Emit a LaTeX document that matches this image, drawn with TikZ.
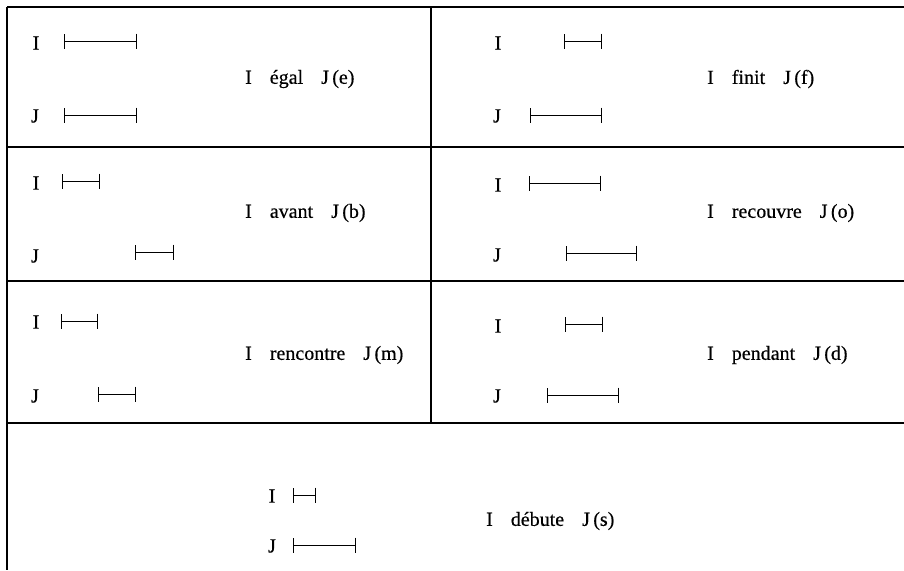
\documentclass[tikz,border=0pt]{standalone}
\usepackage{fontspec}
\setmainfont{Liberation Serif}
\newfontfamily\scanfont[FakeBold=0.5]{Liberation Serif}
\usetikzlibrary{arrows.meta}
\newcommand{\relgap}{\hspace{0.9em}}
\begin{document}
\begin{tikzpicture}[x=1pt,y=-1pt,
  frame/.style={line width=1.8pt,black},
  letter/.style={font=\scanfont\fontsize{20}{20}\selectfont,inner sep=0pt,anchor=center},
  rel/.style={font=\scanfont\fontsize{20}{20}\selectfont,inner sep=0pt,anchor=west},
  ival/.style={line width=1pt,{Bar[width=15pt,line width=1.4pt]}-{Bar[width=15pt,line width=1.4pt]}}]
\useasboundingbox (0,0) rectangle (904,570);
% frame
\coordinate (tl) at (7,7);
\coordinate (tr) at (904,7);
\coordinate (bl) at (7,570);
\coordinate (tm) at (431,7);
\coordinate (bm) at (431,423);
\coordinate (r1l) at (7,147); \coordinate (r1r) at (904,147);
\coordinate (r2l) at (7,281); \coordinate (r2r) at (904,281);
\coordinate (r3l) at (7,423); \coordinate (r3r) at (904,423);
\draw[frame] (tl) -- (tr);
\draw[frame] (r1l) -- (r1r);
\draw[frame] (r2l) -- (r2r);
\draw[frame] (r3l) -- (r3r);
\draw[frame] (tl) -- (bl);
\draw[frame] (tm) -- (bm);
% ---- cell e
\node[letter] (eI) at (36,43) {I};
\node[letter] (eJ) at (35,116) {J};
\coordinate (eIa) at (64,41); \coordinate (eIb) at (137,41);
\coordinate (eJa) at (64,115); \coordinate (eJb) at (137,115);
\draw[ival] (eIa) -- (eIb);
\draw[ival] (eJa) -- (eJb);
\node[rel] (eL) at (245,79) {I\relgap égal\relgap J\,(e)};
% ---- cell f
\node[letter] (fI) at (498,43) {I};
\node[letter] (fJ) at (497,116) {J};
\coordinate (fIa) at (564,41); \coordinate (fIb) at (602,41);
\coordinate (fJa) at (530,115); \coordinate (fJb) at (602,115);
\draw[ival] (fIa) -- (fIb);
\draw[ival] (fJa) -- (fJb);
\node[rel] (fL) at (707,79) {I\relgap finit\relgap J\,(f)};
% ---- cell b
\node[letter] (bI) at (36,183) {I};
\node[letter] (bJ) at (35,256) {J};
\coordinate (bIa) at (62,181); \coordinate (bIb) at (100,181);
\coordinate (bJa) at (135,252); \coordinate (bJb) at (174,252);
\draw[ival] (bIa) -- (bIb);
\draw[ival] (bJa) -- (bJb);
\node[rel] (bL) at (245,213) {I\relgap avant\relgap J\,(b)};
% ---- cell o
\node[letter] (oI) at (498,185) {I};
\node[letter] (oJ) at (497,255) {J};
\coordinate (oIa) at (529,183); \coordinate (oIb) at (601,183);
\coordinate (oJa) at (566,253); \coordinate (oJb) at (637,253);
\draw[ival] (oIa) -- (oIb);
\draw[ival] (oJa) -- (oJb);
\node[rel] (oL) at (707,213) {I\relgap recouvre\relgap J\,(o)};
% ---- cell m
\node[letter] (mI) at (36,322) {I};
\node[letter] (mJ) at (35,396) {J};
\coordinate (mIa) at (61,321); \coordinate (mIb) at (98,321);
\coordinate (mJa) at (98,394); \coordinate (mJb) at (136,394);
\draw[ival] (mIa) -- (mIb);
\draw[ival] (mJa) -- (mJb);
\node[rel] (mL) at (245,355) {I\relgap rencontre\relgap J\,(m)};
% ---- cell d
\node[letter] (dI) at (498,326) {I};
\node[letter] (dJ) at (497,396) {J};
\coordinate (dIa) at (565,324); \coordinate (dIb) at (603,324);
\coordinate (dJa) at (547,395); \coordinate (dJb) at (619,395);
\draw[ival] (dIa) -- (dIb);
\draw[ival] (dJa) -- (dJb);
\node[rel] (dL) at (707,355) {I\relgap pendant\relgap J\,(d)};
% ---- cell s
\node[letter] (sI) at (272,496) {I};
\node[letter] (sJ) at (272,546) {J};
\coordinate (sIa) at (293,495); \coordinate (sIb) at (316,495);
\coordinate (sJa) at (293,545); \coordinate (sJb) at (356,545);
\draw[ival] (sIa) -- (sIb);
\draw[ival] (sJa) -- (sJb);
\node[rel] (sL) at (486,521) {I\relgap débute\relgap J\,(s)};
\end{tikzpicture}
\end{document}
